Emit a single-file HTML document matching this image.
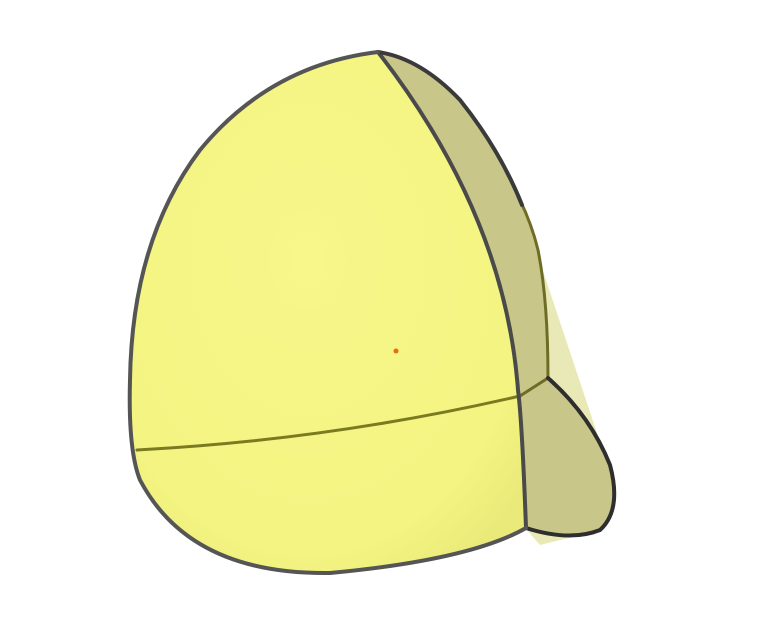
<!DOCTYPE html>
<html><head><meta charset="utf-8"><style>html,body{margin:0;padding:0;background:#fff;width:771px;height:639px;overflow:hidden}</style></head>
<body>
<svg width="771" height="639" viewBox="0 0 771 639" xmlns="http://www.w3.org/2000/svg">
<defs>
<radialGradient id="g1" cx="0.45" cy="0.4" r="0.7">
<stop offset="0" stop-color="#f7f78a"/><stop offset="0.8" stop-color="#f4f482"/><stop offset="1" stop-color="#eaea7a"/>
</radialGradient>
</defs>
<path d="M540 262 L612 478 Q620 510 600 530 L540 545 L525 528 Z" fill="#e4e3a6" opacity="0.8"/>
<path d="M378 52 Q420 58 460 100 Q515 170 538 250 Q548 300 548 378 Q590 415 610 465 Q622 510 600 530 Q570 542 526 528 Q522 420 518 390 Q505 215 378 52 Z" fill="#c9c68a"/>
<path d="M378 52 Q505 215 518 390 Q522 420 526 528 Q470 560 330 573 Q190 575 140 480 Q128 450 130 380 Q132 240 200 150 Q270 65 378 52 Z" fill="url(#g1)"/>
<g fill="none" stroke-linecap="round">
<path d="M137 450 Q330 440 520 396" stroke="#7a7a20" stroke-width="3"/>
<path d="M520 396 L548 378" stroke="#6f6d25" stroke-width="3"/>
<path d="M520 200 Q532 225 538 250 Q548 300 548 378" stroke="#6f6d25" stroke-width="3"/>
<path d="M548 378 Q590 415 610 465 Q622 510 600 530 Q570 542 526 528" stroke="#2e2e2e" stroke-width="4"/>
<path d="M378 52 Q505 215 518 390 Q522 420 526 528" stroke="#4a4a4a" stroke-width="4"/>
<path d="M378 52 Q420 58 460 100 Q500 150 522 205" stroke="#3a3a3a" stroke-width="4"/>
<path d="M526 528 Q470 560 330 573 Q190 575 140 480 Q128 450 130 380 Q132 240 200 150 Q270 65 378 52" stroke="#555" stroke-width="4"/>
</g>
<circle cx="396" cy="351" r="2.5" fill="#e07010"/>
</svg>
</body></html>
